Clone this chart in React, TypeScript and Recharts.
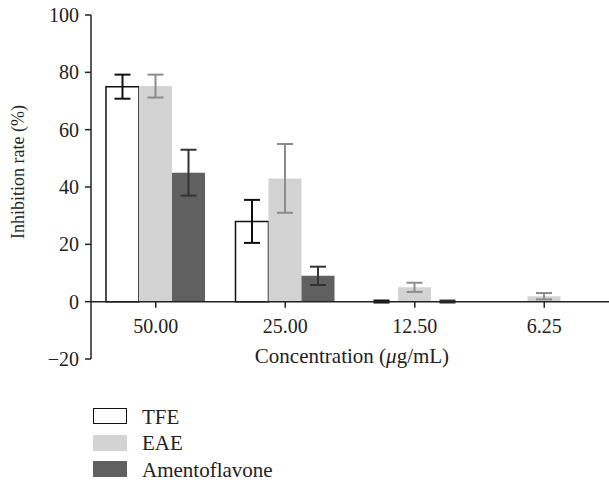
import React from "react";
import {
  BarChart,
  Bar,
  Cell,
  XAxis,
  YAxis,
  ErrorBar,
  ReferenceLine,
  Legend,
} from "recharts";

const concentrations = ["50.00", "25.00", "12.50", "6.25"];
const tfe = [75, 28, 0.05, null];
const tfeErr = [4.2, 7.5, 0.35, null];
const eae = [75.2, 43, 5, 1.9];
const eaeErr = [4, 12, 1.6, 1.1];
const amento = [45, 9, 0.05, null];
const amentoErr = [8, 3.2, 0.35, null];
const yTicks = [-20, 0, 20, 40, 60, 80, 100];

const data = concentrations.map((c, i) => ({
  c,
  tfe: tfe[i],
  tfeErr: tfeErr[i],
  eae: eae[i],
  eaeErr: eaeErr[i],
  amento: amento[i],
  amentoErr: amentoErr[i],
}));

const series = [
  { key: "tfe", name: "TFE", fill: "#ffffff", stroke: "#111", err: "#111" },
  { key: "eae", name: "EAE", fill: "#d3d3d3", stroke: "none", err: "#8c8c8c" },
  { key: "amento", name: "Amentoflavone", fill: "#606060", stroke: "none", err: "#333" },
];

const FONT = "Liberation Serif";
const W = 609;
const H = 486;
const margin = { top: 15, right: 0, bottom: 97, left: 0 };
const X_AXIS_H = 30;
const Y_MIN = -20;
const Y_MAX = 100;
const plotH = H - margin.top - margin.bottom - X_AXIS_H;
// distance from the bottom of the plot up to the zero line
const SHIFT = (plotH * (0 - Y_MIN)) / (Y_MAX - Y_MIN);

function XTick({ x, y, payload }: any) {
  return (
    <g transform={`translate(${x},${y - SHIFT})`}>
      <line y1={0} y2={6} stroke="#222" strokeWidth={1.5} />
      <text y={31} textAnchor="middle" style={{ fontFamily: FONT, fontSize: 20 }} fill="#222">
        {payload.value}
      </text>
    </g>
  );
}

function XTitle({ viewBox }: any) {
  const cx = viewBox.x + viewBox.width / 2;
  const y = viewBox.y - SHIFT + 61;
  return (
    <text x={cx + 2} y={y} textAnchor="middle" style={{ fontFamily: FONT, fontSize: 21 }} fill="#222">
      Concentration (<tspan fontStyle="italic">μ</tspan>g/mL)
    </text>
  );
}

function YTitle({ viewBox }: any) {
  const cx = 18;
  const cy = viewBox.y + viewBox.height / 2 - 15;
  return (
    <text
      x={cx}
      y={cy}
      transform={`rotate(-90, ${cx}, ${cy})`}
      textAnchor="middle"
      dominantBaseline="central"
      style={{ fontFamily: FONT, fontSize: 18 }}
      fill="#222"
    >
      Inhibition rate (%)
    </text>
  );
}

function LegendBox() {
  return (
    <div style={{ fontFamily: FONT, fontSize: 21, color: "#222" }}>
      {series.map((s) => (
        <div key={s.key} style={{ display: "flex", alignItems: "center", height: 26.5 }}>
          <span
            style={{
              display: "inline-block",
              width: 34,
              height: 16,
              boxSizing: "border-box",
              background: s.fill,
              border: s.stroke === "none" ? "none" : `1.5px solid ${s.stroke}`,
              marginRight: 15,
            }}
          />
          <span style={{ position: "relative", top: 1 }}>{s.name}</span>
        </div>
      ))}
    </div>
  );
}

export default function App() {
  return (
    <div style={{ position: "absolute", left: 0, top: 0, background: "#fff" }}>
      <BarChart width={W} height={H} data={data} margin={margin} barSize={33} barGap={0}>
        <XAxis
          dataKey="c"
          height={X_AXIS_H}
          axisLine={false}
          tickLine={false}
          tickSize={0}
          tickMargin={0}
          tick={<XTick />}
          interval={0}
          label={{ content: <XTitle /> }}
        />
        <YAxis
          width={91}
          domain={[Y_MIN, Y_MAX]}
          ticks={yTicks}
          interval={0}
          axisLine={{ stroke: "#222", strokeWidth: 1.5 }}
          tickLine={{ stroke: "#222", strokeWidth: 1.5 }}
          tickSize={6}
          tickMargin={6}
          tick={{ fontFamily: FONT, fontSize: 20, fill: "#222" }}
          tickFormatter={(v: number) => (v < 0 ? `\u2212${Math.abs(v)}` : `${v}`)}
          label={{ content: <YTitle /> }}
        />
        {series.map((s) => (
          <Bar
            key={s.key}
            dataKey={s.key}
            name={s.name}
            fill={s.fill}
            strokeWidth={1.5}
            isAnimationActive={false}
          >
            {data.map((d: any, i) => (
              <Cell key={i} stroke={d[s.key] !== null && d[s.key] < 1 ? "none" : s.stroke} />
            ))}
            <ErrorBar
              dataKey={`${s.key}Err`}
              width={8}
              stroke={s.err}
              strokeWidth={2}
              direction="y"
            />
          </Bar>
        ))}
        <ReferenceLine y={0} stroke="#222" strokeWidth={1.5} />
        <Legend
          layout="horizontal"
          align="center"
          verticalAlign="middle"
          content={<LegendBox />}
          wrapperStyle={{ left: 93, top: 403, width: 250, height: 80 }}
        />
      </BarChart>
    </div>
  );
}
